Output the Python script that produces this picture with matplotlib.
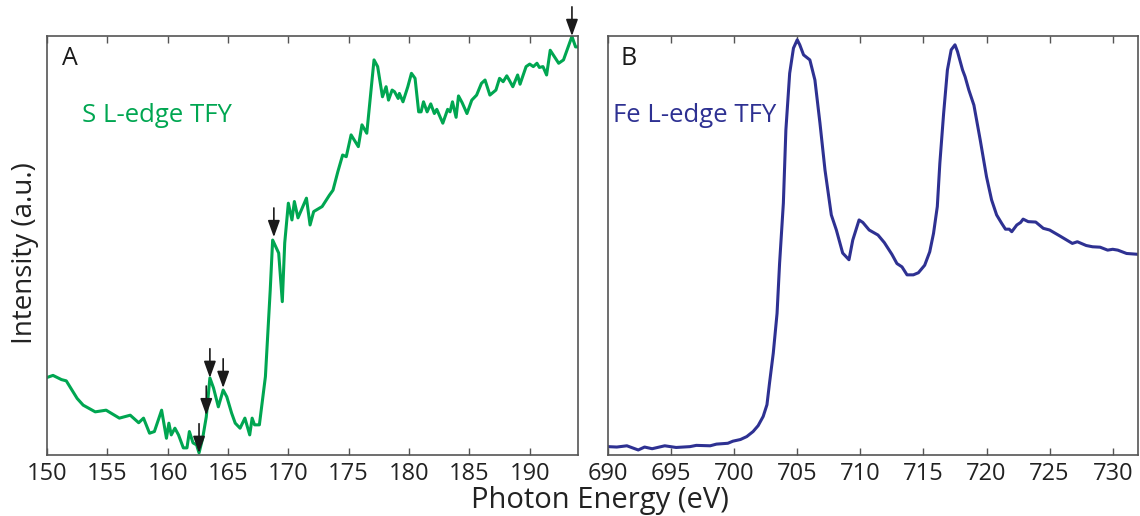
import matplotlib
matplotlib.use("Agg")
import matplotlib.pyplot as plt

plt.rcParams["font.family"] = ["Open Sans", "DejaVu Sans"]

# ── S L-edge TFY (panel A), normalised intensity ────────────────────────────
s_energy = [150.1, 150.5, 151.2, 151.6, 152.5, 153.0, 154.0, 154.9, 156.0, 156.9,
            157.6, 158.0, 158.5, 158.9, 159.5, 159.9, 160.1, 160.3, 160.6, 160.9,
            161.3, 161.6, 161.8, 162.1, 162.4, 162.6, 162.9, 163.2, 163.5, 163.8,
            164.2, 164.6, 164.9, 165.3, 165.6, 166.0, 166.4, 166.8, 167.0, 167.2,
            167.6, 168.1, 168.5, 168.7, 169.2, 169.5, 169.7, 170.0, 170.3, 170.5,
            170.8, 171.5, 171.8, 172.1, 172.8, 173.4, 173.7, 174.1, 174.5, 174.8,
            175.2, 175.8, 176.1, 176.5, 177.1, 177.4, 177.8, 178.1, 178.3, 178.6,
            178.8, 179.1, 179.2, 179.5, 179.9, 180.2, 180.5, 180.8, 181.0, 181.2,
            181.5, 181.8, 182.1, 182.3, 182.8, 183.2, 183.4, 183.6, 183.9, 184.1,
            184.4, 184.8, 185.2, 185.6, 186.0, 186.3, 186.7, 187.2, 187.5, 187.8,
            188.1, 188.3, 188.6, 189.0, 189.2, 189.7, 190.0, 190.3, 190.6, 190.8,
            191.1, 191.4, 191.7, 192.4, 192.8, 193.5, 193.8, 194.0]
s_intensity = [0.186, 0.190, 0.180, 0.177, 0.135, 0.119, 0.103, 0.107, 0.088, 0.095,
               0.077, 0.088, 0.052, 0.056, 0.107, 0.040, 0.076, 0.048, 0.064, 0.048,
               0.017, 0.017, 0.056, 0.029, 0.024, 0.005, 0.040, 0.091, 0.184, 0.160,
               0.115, 0.155, 0.139, 0.100, 0.076, 0.064, 0.088, 0.048, 0.088, 0.072,
               0.072, 0.187, 0.394, 0.513, 0.482, 0.366, 0.506, 0.601, 0.561, 0.605,
               0.566, 0.613, 0.549, 0.581, 0.593, 0.620, 0.632, 0.676, 0.716, 0.712,
               0.764, 0.736, 0.788, 0.768, 0.943, 0.927, 0.855, 0.879, 0.847, 0.871,
               0.867, 0.851, 0.863, 0.843, 0.879, 0.911, 0.899, 0.819, 0.819, 0.843,
               0.819, 0.838, 0.815, 0.825, 0.792, 0.825, 0.819, 0.843, 0.806, 0.857,
               0.841, 0.815, 0.847, 0.859, 0.887, 0.895, 0.859, 0.871, 0.899, 0.891,
               0.905, 0.895, 0.879, 0.907, 0.885, 0.927, 0.933, 0.927, 0.935, 0.925,
               0.927, 0.907, 0.966, 0.935, 0.943, 0.999, 0.974, 0.974]

# arrows marking features (energy, intensity at arrow tip)
arrow_energy = [162.6, 163.2, 163.5, 164.6, 168.8, 193.5]
arrow_tip = [0.005, 0.095, 0.184, 0.160, 0.520, 1.0]

# ── Fe L-edge TFY (panel B) ─────────────────────────────────────────────────
fe_energy = [690.0, 690.7, 691.5, 692.4, 692.9, 693.5, 694.5, 695.4, 696.5, 697.0,
             698.1, 698.6, 699.5, 699.9, 700.5, 701.0, 701.5, 701.9, 702.3, 702.6,
             702.8, 703.1, 703.4, 703.6, 703.9, 704.1, 704.4, 704.7, 705.0, 705.2,
             705.5, 706.0, 706.4, 706.8, 707.2, 707.7, 708.1, 708.6, 709.1, 709.4,
             709.9, 710.2, 710.7, 711.4, 711.9, 712.5, 712.9, 713.3, 713.7, 714.2,
             714.6, 715.1, 715.5, 715.8, 716.1, 716.3, 716.6, 716.9, 717.2, 717.5,
             717.7, 718.1, 718.3, 718.6, 719.0, 719.5, 720.0, 720.4, 720.8, 721.2,
             721.5, 721.8, 722.0, 722.4, 722.7, 722.9, 723.3, 723.9, 724.5, 725.0,
             725.8, 726.8, 727.2, 727.9, 728.4, 729.0, 729.6, 730.0, 730.4, 731.1,
             732.0]
fe_intensity = [0.020, 0.019, 0.022, 0.012, 0.019, 0.015, 0.022, 0.018, 0.020, 0.023,
                0.022, 0.026, 0.028, 0.033, 0.037, 0.044, 0.056, 0.070, 0.092, 0.120,
                0.171, 0.243, 0.338, 0.457, 0.601, 0.776, 0.911, 0.971, 0.991, 0.979,
                0.955, 0.943, 0.895, 0.792, 0.680, 0.573, 0.537, 0.482, 0.466, 0.513,
                0.561, 0.555, 0.537, 0.525, 0.507, 0.479, 0.457, 0.449, 0.430, 0.430,
                0.435, 0.453, 0.485, 0.529, 0.593, 0.696, 0.815, 0.919, 0.967, 0.979,
                0.963, 0.919, 0.903, 0.871, 0.835, 0.752, 0.664, 0.609, 0.573, 0.553,
                0.539, 0.539, 0.533, 0.549, 0.555, 0.563, 0.557, 0.556, 0.541, 0.537,
                0.523, 0.505, 0.509, 0.500, 0.497, 0.496, 0.489, 0.491, 0.489, 0.481,
                0.479]

s_ticks = [150, 155, 160, 165, 170, 175, 180, 185, 190]
fe_ticks = [690, 695, 700, 705, 710, 715, 720, 725, 730]

GREEN = "#00a651"
BLUE = "#2e3192"
SPINE = "#555555"

fig = plt.figure(figsize=(11.4, 5.16), dpi=100)
ax_a = fig.add_axes([0.0412, 0.1182, 0.4658, 0.812])
ax_b = fig.add_axes([0.5333, 0.1182, 0.4649, 0.812])


def style(ax, xlim, ticks):
    ax.set_xlim(*xlim)
    ax.set_ylim(0, 1)
    ax.set_xticks(ticks)
    ax.set_yticks([])
    ax.tick_params(axis="x", direction="in", top=True, length=5, width=1,
                   color=SPINE, labelsize=17, pad=5, labelcolor="#222222")
    for sp in ax.spines.values():
        sp.set_color(SPINE)
        sp.set_linewidth(1.2)


# panel A
ax_a.plot(s_energy, s_intensity, color=GREEN, lw=2.2, solid_joinstyle="round")
style(ax_a, (150, 194), s_ticks)
for e, tip in zip(arrow_energy, arrow_tip):
    ax_a.annotate("", xy=(e, tip), xytext=(0, 21), textcoords="offset points",
                  annotation_clip=False,
                  arrowprops=dict(arrowstyle="-|>,head_width=0.26,head_length=0.72",
                                  color="#1a1a1a", lw=1.2,
                                  mutation_scale=14, shrinkA=0, shrinkB=0))
ax_a.text(0.028, 0.975, "A", transform=ax_a.transAxes, fontsize=18,
          va="top", ha="left", color="#1a1a1a")
ax_a.text(0.066, 0.795, "S L-edge TFY", transform=ax_a.transAxes, fontsize=18.5,
          va="baseline", ha="left", color=GREEN)

# panel B
ax_b.plot(fe_energy, fe_intensity, color=BLUE, lw=2.2, solid_joinstyle="round")
style(ax_b, (690, 732), fe_ticks)
ax_b.text(0.023, 0.975, "B", transform=ax_b.transAxes, fontsize=18,
          va="top", ha="left", color="#1a1a1a")
ax_b.text(0.009, 0.795, "Fe L-edge TFY", transform=ax_b.transAxes, fontsize=18.5,
          va="baseline", ha="left", color=BLUE)

fig.text(0.022, 0.51, "Intensity (a.u.)", rotation=90, fontsize=20,
         ha="center", va="center", color="#222222")
fig.text(0.526, 0.03, "Photon Energy (eV)", fontsize=21,
         ha="center", va="center", color="#222222")

fig.savefig("out.png", dpi=100)
